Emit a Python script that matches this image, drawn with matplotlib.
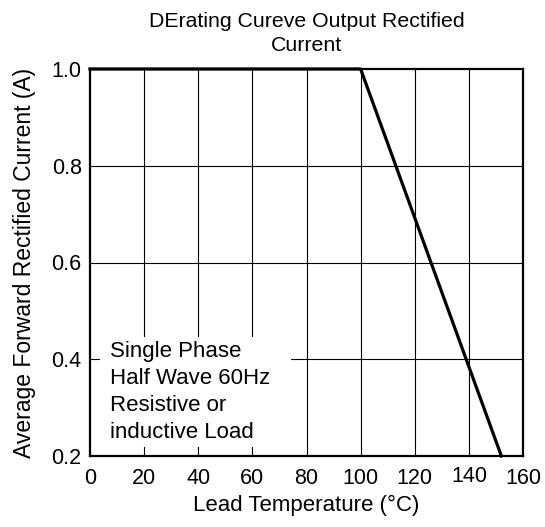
import matplotlib.pyplot as plt
import matplotlib.transforms as mtransforms
from matplotlib.patches import Rectangle

# === DATA ===
temp_c = [0, 100, 152]
current_a = [1.0, 1.0, 0.2]
x_ticks = [0, 20, 40, 60, 80, 100, 120, 140, 160]
y_ticks = [0.2, 0.4, 0.6, 0.8, 1.0]
note = "Single Phase\nHalf Wave 60Hz\nResistive or\ninductive Load"

plt.rcParams['font.family'] = ['Liberation Sans', 'DejaVu Sans']

fig = plt.figure(figsize=(5.45, 5.27), dpi=100)
ax = fig.add_axes([90 / 545, 1 - 456 / 527, 433 / 545, 387 / 527])

# grid lines: thin black lines
for x in x_ticks[1:-1]:
    ax.axvline(x, color="black", lw=0.8, zorder=1)
for y in y_ticks[1:-1]:
    ax.axhline(y, color="black", lw=0.8, zorder=1)

ax.plot(temp_c, current_a, color="black", lw=2.3, zorder=4, clip_on=False)

ax.set_xlim(0, 160)
ax.set_ylim(0.2, 1.0)
ax.set_xticks(x_ticks)
ax.set_yticks(y_ticks)
ax.set_yticklabels([f"{v:.1f}" for v in y_ticks])
ax.tick_params(length=0, labelsize=15.5)
ax.tick_params(axis="x", pad=9)
ax.tick_params(axis="y", pad=6)

# the 140 label sits a bit high in the original
lab = ax.get_xticklabels()[7]
lab.set_transform(lab.get_transform() + mtransforms.ScaledTranslation(0, 2 / 100, fig.dpi_scale_trans))

for s in ax.spines.values():
    s.set_linewidth(1.6)
    s.set_zorder(5)

# white box behind the note, gridlines break around it
ax.add_patch(Rectangle((3.7, 0.219), 70.7, 0.227, facecolor="white", edgecolor="none", zorder=2))
ax.text(7.5, 0.438, note, fontsize=16, va="top", ha="left", linespacing=1.38, zorder=3)

ax.set_xlabel("Lead Temperature (°C)", fontsize=16, labelpad=4)
ax.set_ylabel("Average Forward Rectified Current (A)", fontsize=16.5, labelpad=11)
ax.set_title("DErating Cureve Output Rectified\nCurrent", fontsize=15.3, pad=13, linespacing=1.3)

fig.savefig("out.png", dpi=100)
